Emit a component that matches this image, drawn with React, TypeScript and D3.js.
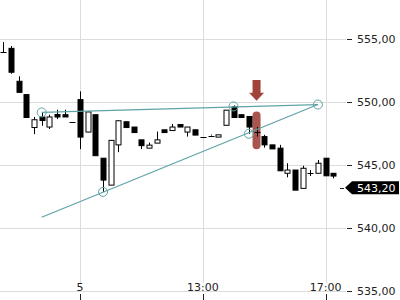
import React from "react";
import * as d3 from "d3";

const startIndex = -10;
const opens = [553.98, 554.28, 551.66, 550.6, 547.98, 548.82, 548.02, 549.02, 549.0, 548.44,
  550.2, 547.62, 549.0, 545.54, 543.4, 546.6, 548.44, 548.02, 547.0, 546.34,
  546.74, 547.8, 547.74, 548.22, 547.62, 547.8, 547.22, 547.34, 547.22, 548.16,
  549.62, 549.0, 548.86, 547.62, 547.26, 546.6, 546.34, 544.34, 544.6, 543.14,
  544.34, 544.34, 545.54, 544.34];
const highs = [554.78, 554.46, 552.06, 550.6, 548.82, 549.18, 549.0, 549.4, 549.4, 548.44,
  550.86, 549.26, 549.0, 545.54, 546.96, 548.52, 548.44, 548.02, 547.0, 546.78,
  547.66, 547.8, 548.26, 548.22, 548.02, 547.8, 547.22, 547.42, 547.4, 549.36,
  549.74, 549.0, 548.86, 548.02, 547.4, 546.6, 546.6, 545.14, 544.6, 544.94,
  544.6, 545.4, 545.54, 544.34];
const lows = [553.98, 552.26, 550.78, 548.78, 547.46, 548.12, 547.86, 548.66, 548.82, 548.44,
  546.26, 547.62, 545.74, 542.86, 543.4, 546.02, 547.98, 547.58, 546.26, 546.34,
  546.74, 547.58, 547.74, 548.02, 547.26, 547.38, 547.22, 547.34, 547.22, 548.16,
  548.78, 548.78, 547.48, 547.26, 546.38, 546.28, 544.54, 544.02, 543.0, 543.14,
  544.12, 544.34, 544.14, 543.94];
const closes = [553.98, 552.38, 550.78, 548.78, 548.6, 548.54, 548.82, 548.82, 548.82, 548.44,
  547.22, 549.22, 545.74, 543.8, 546.96, 548.52, 547.98, 547.58, 546.54, 546.58,
  547.0, 547.58, 548.02, 548.02, 548.02, 547.38, 547.22, 547.34, 547.4, 549.36,
  548.78, 548.78, 548.02, 547.62, 546.6, 546.28, 544.54, 544.6, 543.0, 544.74,
  544.34, 545.14, 544.14, 544.12];

const yTicks = [535, 540, 545, 550, 555];
const xTickIndex = [0, 16, 32];
const xTickLabels = ["5", "13:00", "17:00"];

const lastPrice = 543.2;

// trendline anchor points [index, price]
const anchorPoints: [number, number][] = [
  [-5, 549.18], [3, 542.86], [20, 549.66], [22, 547.48], [31, 549.81],
];
const trendLines: [number, number][][] = [
  [[-5, 540.84], [31, 549.81]],
  [[-5, 549.18], [31, 549.81]],
];

const markerIndex = 23;
const highlightRange = [546.25, 549.25];
const arrowRange = [550.12, 551.76];

const TEAL = "#5fa3a7";
const RED = "#a0433b";
const GRID = "#dcdcdc";

export default function App() {
  const W = 400, H = 300;
  const x = d3.scaleLinear().domain([-10, 33]).range([3.3, 333.3]);
  const y = d3.scaleLinear().domain([535, 555]).range([290.7, 39.3]);
  const bw = 5;
  const fmt = (v: number) => v.toFixed(2).replace(".", ",");
  const px = (v: number) => Math.round(v) + 0.5;

  const candles = opens.map((o, k) => ({
    i: startIndex + k, o, h: highs[k], l: lows[k], c: closes[k],
  }));

  const line = d3.line<[number, number]>().x((d) => x(d[0])).y((d) => y(d[1]));

  const mx = x(markerIndex);
  const aTop = y(arrowRange[1]);
  const aTip = y(arrowRange[0]);
  const headY = aTip - 8;
  const arrowPath = `M${mx - 4},${aTop} L${mx + 4},${aTop} L${mx + 4},${headY} L${mx + 7.5},${headY} L${mx},${aTip} L${mx - 7.5},${headY} L${mx - 4},${headY} Z`;

  const ly = y(lastPrice);

  return (
    <svg width={W} height={H} style={{ position: "absolute", left: 0, top: 0, background: "#fff" }}
      fontFamily="DejaVu Sans" fontSize={11}>
      {yTicks.map((t) => (
        <line key={"h" + t} x1={0} x2={346} y1={px(y(t))} y2={px(y(t))} stroke={GRID} />
      ))}
      {xTickIndex.map((t) => (
        <line key={"v" + t} x1={px(x(t))} x2={px(x(t))} y1={0} y2={283} stroke={GRID} />
      ))}
      {xTickIndex.map((t) => (
        <line key={"xt" + t} x1={px(x(t))} x2={px(x(t))} y1={294} y2={300} stroke="#222" />
      ))}
      {xTickIndex.map((t, k) => (
        <text key={"xl" + t} x={x(t)} y={291} textAnchor="middle" fill="#222">{xTickLabels[k]}</text>
      ))}
      {yTicks.map((t) => (
        <g key={"yl" + t}>
          <line x1={347} x2={352} y1={px(y(t))} y2={px(y(t))} stroke="#222" />
          <text x={357} y={y(t) + 4} fill="#222">{fmt(t)}</text>
        </g>
      ))}

      <rect x={mx - 4} width={8} y={y(highlightRange[1])} height={y(highlightRange[0]) - y(highlightRange[1])}
        rx={4} fill={RED} opacity={0.9} />
      <path d={arrowPath} fill={RED} />

      {candles.map((d) => {
        const cx = px(x(d.i));
        const top = y(Math.max(d.o, d.c));
        const bot = y(Math.min(d.o, d.c));
        const up = d.c > d.o;
        const doji = d.c === d.o;
        return (
          <g key={d.i}>
            <line x1={cx} x2={cx} y1={y(d.h)} y2={y(d.l)} stroke="#000" />
            {doji ? (
              <line x1={cx - bw / 2 - 0.5} x2={cx + bw / 2 + 0.5} y1={px(top)} y2={px(top)} stroke="#000" />
            ) : (
              <rect x={cx - bw / 2} y={top} width={bw} height={Math.max(1, bot - top)}
                fill={up ? "#fff" : "#000"} stroke="#000" strokeWidth={1} />
            )}
          </g>
        );
      })}

      {trendLines.map((pts, k) => (
        <path key={"tl" + k} d={line(pts) || ""} fill="none" stroke={TEAL} strokeWidth={1.2} />
      ))}
      {anchorPoints.map((p, k) => (
        <circle key={"ap" + k} cx={x(p[0])} cy={y(p[1])} r={4.5} fill="none" stroke={TEAL} strokeWidth={1} />
      ))}

      <line x1={340} x2={344} y1={px(ly)} y2={px(ly)} stroke="#222" />
      <path d={`M345,${ly} L352,${ly - 6.5} L399,${ly - 6.5} L399,${ly + 6.5} L352,${ly + 6.5} Z`} fill="#000" />
      <text x={357} y={ly + 4} fill="#fff">{fmt(lastPrice)}</text>
    </svg>
  );
}
